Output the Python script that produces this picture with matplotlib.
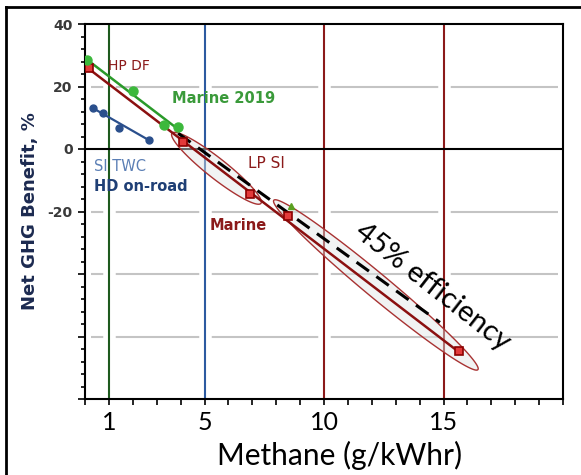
import numpy as np
import matplotlib
matplotlib.use('Agg')
import matplotlib.pyplot as plt
import matplotlib.patheffects as pe
from matplotlib.patches import Polygon
from matplotlib.lines import Line2D

# data
green_x = [0.1, 2.0, 3.3, 3.9]
green_y = [28.5, 18.5, 7.8, 7.0]
green_fit_x = [0.05, 3.85]
green_fit_y = [28.8, 6.6]
green_extra_x = [8.6]
green_extra_y = [-18.3]

red_x = [0.17, 4.1, 6.9, 8.5, 15.65]
red_y = [26.0, 2.3, -14.5, -21.5, -64.5]
red_fit_x = [0.05, 15.65]
red_fit_y = [26.3, -65.0]

blue_x = [0.35, 0.77, 1.43, 2.68]
blue_y = [13.0, 11.4, 6.6, 2.8]

eff_x = [3.9, 14.85]
eff_y = [5.0, -55.5]

# ellipse end points (data) and half width in pixels
ell_ends = [((3.64, 5.06), (7.36, -17.4)), ((7.9, -16.4), (16.44, -70.6))]
ell_half = [10, 12]

vline_x = [1, 5, 10, 15]
vline_colors = ['#1e5a1e', '#2c5aa0', '#8b1a1a', '#8b1a1a']
grid_y = [20, -20, -40, -60]

xtick_major = [1, 5, 10, 15]
ytick_major = [-80, -60, -40, -20, 0, 20, 40]
ytick_labels = ['', '', '', '-20', '0', '20', '40']

calib = ['Lato', 'DejaVu Sans']

fig = plt.figure(figsize=(5.81, 4.75), dpi=100)
ax = fig.add_axes([85/581, 1-399/475, 478/581, 375/475])
ax.set_xlim(0, 20)
ax.set_ylim(-80, 40)

# grey grid
ax.hlines(grid_y, 0.25, 19.8, color='#c4c4c4', lw=1.5, zorder=1)
# coloured verticals with white gaps
for xv, c in zip(vline_x, vline_colors):
    ax.axvline(xv, color=c, lw=1.5, zorder=2,
               path_effects=[pe.Stroke(linewidth=9, foreground='white'), pe.Normal()])
ax.axhline(0, color='black', lw=1.5, zorder=3)

# ellipses, built in pixel space so they follow the slope on screen
for (p1, p2), hw in zip(ell_ends, ell_half):
    a = ax.transData.transform(p1)
    b = ax.transData.transform(p2)
    c = (a + b) / 2
    u = (b - a) / 2
    v = np.array([-u[1], u[0]]) / np.hypot(*u) * hw
    t = np.linspace(0, 2*np.pi, 200)
    pts = c + np.outer(np.cos(t), u) + np.outer(np.sin(t), v)
    pts = ax.transData.inverted().transform(pts)
    ax.add_patch(Polygon(pts, closed=True, facecolor=(0.88, 0.9, 0.9, 0.45),
                         edgecolor='#a83232', lw=1.0, zorder=4))

ax.plot(eff_x, eff_y, color='black', lw=2.2, dashes=(5, 3), zorder=5)
ax.plot(red_fit_x, red_fit_y, color='#8b1010', lw=1.8, zorder=6)
ax.plot(red_x, red_y, 's', ms=6, mfc='#e23a3a', mec='#8b0000', mew=1.2, zorder=8)
ax.plot(green_fit_x, green_fit_y, color='#2a9a2a', lw=1.8, zorder=7)
ax.plot(green_x, green_y, 'o', ms=6.5, color='#3cb83c', zorder=8)
ax.plot(green_extra_x, green_extra_y, '^', ms=5, color='#5aa020', zorder=8)
ax.plot([blue_x[0], blue_x[-1]], [blue_y[0], blue_y[-1]], color='#2a4f8c', lw=1.6, zorder=7)
ax.plot(blue_x, blue_y, 'o', ms=5, color='#2a4f8c', zorder=8)

# labels in the plot
ax.text(0.96, 26.5, 'HP DF', color='#8b1a1a', fontsize=10, va='center', zorder=9)
ax.text(3.64, 16.3, 'Marine 2019', color='#3a9a3a', fontsize=10.5, weight='bold', va='center', zorder=9)
ax.text(0.38, -5.5, 'SI TWC', color='#5b7fb5', fontsize=10.5, va='center', zorder=9)
ax.text(0.38, -11.9, 'HD on-road', color='#1f3f75', fontsize=10.5, weight='bold', va='center', zorder=9)
ax.text(6.82, -4.6, 'LP SI', color='#8b1a1a', fontsize=11, va='center', zorder=9)
ax.text(5.23, -24.4, 'Marine', color='#8b1a1a', fontsize=10.5, weight='bold', va='center', zorder=9)
ax.text(14.56, -44.3, '45% efficiency', family=calib, fontsize=21, rotation=-38,
        ha='center', va='center', rotation_mode='anchor', zorder=9)

# axes styling
for s in ax.spines.values():
    s.set_linewidth(1.5)
ax.set_xticks(xtick_major)
ax.set_xticks(np.arange(0, 21), minor=True)
ax.set_xticklabels([str(v) for v in xtick_major], fontsize=18, family=calib)
ax.set_yticks(ytick_major)
ax.set_yticks(np.arange(-80, 41, 4), minor=True)
ax.set_yticklabels(ytick_labels, fontsize=10, weight='bold', color='#3a3a3a')
ax.tick_params(axis='both', which='both', direction='out', width=1.2)
ax.tick_params(axis='y', which='major', length=5, pad=4)
ax.tick_params(axis='y', which='minor', length=3)
ax.tick_params(axis='x', which='major', length=4, pad=5)
ax.tick_params(axis='x', which='minor', length=4)

fig.text(340/581, 1-455/475, 'Methane (g/kWhr)', family=calib, fontsize=21.5,
         ha='center', va='center')
fig.text(30/581, 1-211/475, 'Net GHG Benefit, %', fontsize=13, weight='bold',
         color='#1c2a50', rotation=90, ha='center', va='center')

# frame round the picture (top and left only)
fig.add_artist(Line2D([6/581, 1], [1-7/475, 1-7/475], color='black', lw=2))
fig.add_artist(Line2D([6/581, 6/581], [0, 1-7/475], color='black', lw=2))

fig.savefig('out.png', dpi=100)
